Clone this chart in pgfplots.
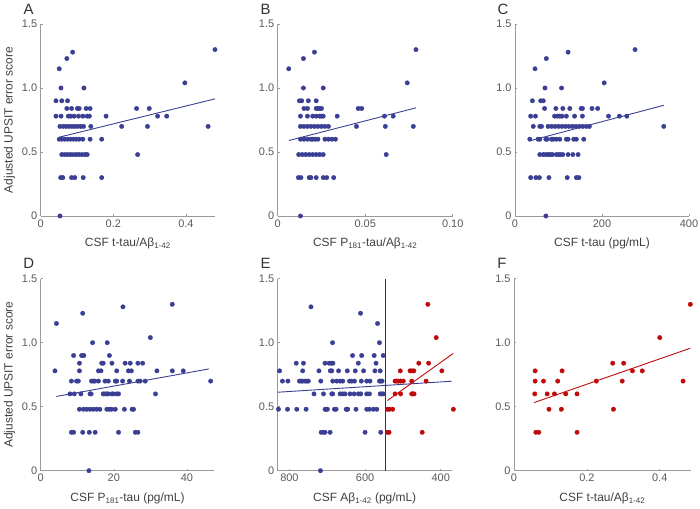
\documentclass[border=0pt]{standalone}
\usepackage{fontspec}
\setmainfont{Liberation Sans}
\usepackage{pgfplots}
\pgfplotsset{compat=1.18}

\definecolor{dotblue}{HTML}{3A3F94}
\definecolor{dotred}{HTML}{C00A0A}
\definecolor{axgray}{HTML}{9A9A9A}

\pgfplotsset{
  panel/.style={
    scale only axis, height=192bp,
    ymin=0, ymax=1.5,
    ytick={0,0.5,1,1.5}, yticklabels={0,0.5,1.0,1.5},
    axis x line*=bottom, axis y line*=left,
    axis line style={axgray, line width=0.6pt},
    tick style={axgray, line width=0.5pt},
    major tick length=2bp, tick align=inside,
    ticklabel style={font=\fontsize{11}{13}\selectfont, text=black!65},
    label style={font=\fontsize{12}{14}\selectfont, text=black!75},
    xlabel style={yshift=-4bp},
    clip=false,
  },
  dots/.style={only marks, mark=*, mark size=2.2bp, color=#1},
  fit/.style={no marks, line width=0.9pt, color=#1},
}

\newcommand{\panellabel}[1]{\node[font=\fontsize{15}{17}\selectfont, text=black!80, xshift=-12bp, yshift=15bp] at (rel axis cs:0,1) {#1};}

\begin{document}
\begin{tikzpicture}
\useasboundingbox (0,0) rectangle (700bp,509bp);

% A
\begin{axis}[panel, at={(40.7bp,293bp)}, anchor=south west, width=174.3bp,
  xmin=0, xmax=0.48, xtick={0,0.2,0.4}, xticklabels={0,0.2,0.4},
  xlabel={CSF t-tau/Aβ\textsubscript{1-42}}, ylabel={Adjusted UPSIT error score}]
\addplot[dots=dotblue] table {
x y
0.48 1.3
0.088 1.28
0.072 1.23
0.051 1.15
0.397 1.04
0.056 1.0
0.119 1.0
0.042 0.9
0.058 0.9
0.074 0.9
0.072 0.84
0.085 0.84
0.101 0.84
0.106 0.84
0.125 0.84
0.136 0.84
0.264 0.84
0.299 0.84
0.042 0.78
0.056 0.78
0.076 0.78
0.083 0.78
0.092 0.78
0.104 0.78
0.116 0.78
0.128 0.78
0.134 0.78
0.180 0.78
0.322 0.78
0.347 0.78
0.053 0.7
0.062 0.7
0.070 0.7
0.078 0.7
0.086 0.7
0.094 0.7
0.102 0.7
0.110 0.7
0.118 0.7
0.138 0.7
0.223 0.7
0.294 0.7
0.461 0.7
0.051 0.6
0.058 0.6
0.066 0.6
0.074 0.6
0.082 0.6
0.090 0.6
0.098 0.6
0.106 0.6
0.116 0.6
0.136 0.6
0.168 0.6
0.058 0.48
0.066 0.48
0.074 0.48
0.082 0.48
0.090 0.48
0.098 0.48
0.106 0.48
0.114 0.48
0.122 0.48
0.128 0.48
0.267 0.48
0.055 0.3
0.061 0.3
0.085 0.3
0.094 0.3
0.117 0.3
0.168 0.3
0.053 0.0
};
\addplot[fit=dotblue] coordinates {(0.05,0.615) (0.48,0.915)};
\panellabel{A}
\end{axis}

% B
\begin{axis}[panel, at={(277.7bp,293bp)}, anchor=south west, width=175bp,
  xmin=0, xmax=0.1, xtick={0,0.05,0.1}, xticklabels={0,0.05,0.10},
  xlabel={CSF P\textsubscript{181}-tau/Aβ\textsubscript{1-42}}]
\addplot[dots=dotblue] table {
x y
0.079 1.3
0.021 1.28
0.0147 1.23
0.0063 1.15
0.074 1.04
0.0147 1.0
0.026 1.0
0.0124 0.9
0.0137 0.9
0.0175 0.9
0.022 0.9
0.015 0.84
0.017 0.84
0.022 0.84
0.023 0.84
0.024 0.84
0.025 0.84
0.046 0.84
0.048 0.84
0.013 0.78
0.017 0.78
0.020 0.78
0.022 0.78
0.024 0.78
0.025 0.78
0.026 0.78
0.034 0.78
0.061 0.78
0.066 0.78
0.013 0.7
0.015 0.7
0.017 0.7
0.019 0.7
0.021 0.7
0.023 0.7
0.025 0.7
0.027 0.7
0.029 0.7
0.045 0.7
0.0615 0.7
0.0775 0.7
0.013 0.6
0.015 0.6
0.017 0.6
0.019 0.6
0.020 0.6
0.0215 0.6
0.023 0.6
0.027 0.6
0.029 0.6
0.031 0.6
0.033 0.6
0.012 0.48
0.014 0.48
0.016 0.48
0.018 0.48
0.020 0.48
0.022 0.48
0.024 0.48
0.026 0.48
0.062 0.48
0.0118 0.3
0.0133 0.3
0.018 0.3
0.019 0.3
0.022 0.3
0.026 0.3
0.028 0.3
0.032 0.3
0.013 0.0
};
\addplot[fit=dotblue] coordinates {(0.0065,0.59) (0.079,0.845)};
\panellabel{B}
\end{axis}

% C
\begin{axis}[panel, at={(515bp,293bp)}, anchor=south west, width=174bp,
  xmin=0, xmax=400, xtick={0,200,400}, xticklabels={0,200,400},
  xlabel={CSF t-tau (pg/mL)}]
\addplot[dots=dotblue] table {
x y
276 1.3
122 1.28
72 1.23
46 1.15
205 1.04
69 1.0
107 1.0
40 0.9
59 0.9
65 0.9
68 0.84
94 0.84
110 0.84
126 0.84
152 0.84
155 0.84
177 0.84
190 0.84
36 0.78
47 0.78
91 0.78
97 0.78
103 0.78
108 0.78
118 0.78
137 0.78
155 0.78
215 0.78
240 0.78
257 0.78
42 0.7
57 0.7
61 0.7
76 0.7
84 0.7
92 0.7
100 0.7
108 0.7
116 0.7
124 0.7
132 0.7
140 0.7
148 0.7
156 0.7
164 0.7
171 0.7
342 0.7
34 0.6
53 0.6
57 0.6
71 0.6
74 0.6
84 0.6
88 0.6
95 0.6
103 0.6
118 0.6
122 0.6
135 0.6
141 0.6
158 0.6
57 0.48
65 0.48
71 0.48
76 0.48
81 0.48
86 0.48
95 0.48
100 0.48
105 0.48
110 0.48
122 0.48
133 0.48
145 0.48
36 0.3
48 0.3
56 0.3
78 0.3
120 0.3
141 0.3
147 0.3
71 0.0
};
\addplot[fit=dotblue] coordinates {(36,0.589) (342,0.865)};
\panellabel{C}
\end{axis}

% D
\begin{axis}[panel, at={(40.7bp,38.3bp)}, anchor=south west, width=173.6bp,
  xmin=0, xmax=47.5, xtick={0,20,40}, xticklabels={0,20,40},
  xlabel={CSF P\textsubscript{181}-tau (pg/mL)}, ylabel={Adjusted UPSIT error score}]
\addplot[dots=dotblue] table {
x y
36 1.3
22.5 1.28
11.5 1.23
4.3 1.15
30 1.04
14.2 1.0
18.2 1.0
9 0.9
11.2 0.9
11.8 0.9
18.8 0.9
10.6 0.84
16.7 0.84
17.1 0.84
19.5 0.84
23.1 0.84
24.5 0.84
26.6 0.84
27.9 0.84
3.9 0.78
10.6 0.78
15.8 0.78
16.5 0.78
20.8 0.78
24.0 0.78
24.8 0.78
31.8 0.78
36 0.78
39 0.78
8.4 0.7
9.8 0.7
10.3 0.7
13.9 0.7
14.4 0.7
14.8 0.7
15.8 0.7
17.6 0.7
18.5 0.7
20.4 0.7
20.8 0.7
22.4 0.7
24.3 0.7
26.6 0.7
27.2 0.7
28.6 0.7
46.5 0.7
8 0.6
9.2 0.6
11 0.6
13.5 0.6
13.8 0.6
17.1 0.6
17.6 0.6
18.1 0.6
18.5 0.6
19.5 0.6
19.9 0.6
20.8 0.6
21.3 0.6
31.4 0.6
10.6 0.48
11.7 0.48
12.6 0.48
13.5 0.48
14.4 0.48
15.3 0.48
16.2 0.48
18.1 0.48
18.8 0.48
19.4 0.48
20.4 0.48
22.9 0.48
25.0 0.48
25.4 0.48
8.4 0.3
9 0.3
11.5 0.3
13.3 0.3
14.9 0.3
21.3 0.3
25.9 0.3
26.6 0.3
13.2 0.0
};
\addplot[fit=dotblue] coordinates {(4.3,0.58) (46,0.795)};
\panellabel{D}
\end{axis}

% E
\begin{axis}[panel, at={(277.7bp,38.3bp)}, anchor=south west, width=174bp,
  x dir=reverse, xmin=371, xmax=831, xtick={400,600,800}, xticklabels={400,600,800},
  xlabel={CSF Aβ\textsubscript{1-42} (pg/mL)}]
\addplot[no marks, line width=0.8pt, color=black!80] coordinates {(546,0) (546,1.5)};
\addplot[dots=dotblue] table {
x y
743 1.28
612 1.23
567 1.15
686 1.0
562 1.0
633 0.9
609 0.9
576 0.9
552 0.9
782 0.84
763 0.84
706 0.84
695 0.84
690 0.84
685 0.84
618 0.84
571 0.84
826 0.78
765 0.78
722 0.78
692 0.78
688 0.78
670 0.78
647 0.78
626 0.78
604 0.78
574 0.78
560 0.78
818.5 0.7
804 0.7
773.6 0.7
769 0.7
765 0.7
758.6 0.7
754 0.7
750 0.7
717 0.7
685.5 0.7
675 0.7
666 0.7
659 0.7
641 0.7
635 0.7
628 0.7
610 0.7
595.6 0.7
587 0.7
562 0.7
558.5 0.7
555 0.7
735 0.6
710 0.6
688 0.6
685.5 0.6
666 0.6
659 0.6
653 0.6
640 0.6
629 0.6
617.6 0.6
611.5 0.6
595.6 0.6
588.5 0.6
560 0.6
556 0.6
551.5 0.6
829 0.48
805 0.48
780.6 0.48
756 0.48
705.7 0.48
703 0.48
699.6 0.48
681 0.48
676.6 0.48
650 0.48
648.5 0.48
646 0.48
624 0.48
595.6 0.48
588.5 0.48
578 0.48
569 0.48
716 0.3
710 0.3
705.7 0.3
692.5 0.3
600 0.3
558.6 0.3
718 0.0
};
\addplot[dots=dotred] table {
x y
434 1.3
412 1.04
458 0.84
432 0.84
507 0.78
481 0.78
477 0.78
471 0.78
397 0.78
520.7 0.7
516 0.7
512 0.7
506 0.7
499 0.7
476.6 0.7
438.7 0.7
520.7 0.6
506 0.6
476.6 0.6
474 0.6
470.5 0.6
541 0.48
535.7 0.48
527 0.48
366.5 0.48
541 0.3
536.6 0.3
449 0.3
};
\addplot[fit=dotblue] coordinates {(831,0.613) (371,0.699)};
\addplot[fit=dotred] coordinates {(541,0.548) (367,0.916)};
\panellabel{E}
\end{axis}

% F
\begin{axis}[panel, at={(514bp,38.3bp)}, anchor=south west, width=176.7bp,
  xmin=0, xmax=0.485, xtick={0,0.2,0.4}, xticklabels={0,0.2,0.4},
  xlabel={CSF t-tau/Aβ\textsubscript{1-42}}]
\addplot[dots=dotred] table {
x y
0.058 0.78
0.058 0.7
0.057 0.6
0.060 0.3
0.068 0.3
0.081 0.7
0.091 0.6
0.096 0.48
0.111 0.6
0.120 0.7
0.130 0.48
0.132 0.78
0.142 0.6
0.173 0.6
0.173 0.3
0.226 0.7
0.271 0.84
0.273 0.48
0.297 0.7
0.301 0.84
0.325 0.78
0.352 0.78
0.400 1.04
0.464 0.7
0.484 1.3
};
\addplot[fit=dotred] coordinates {(0.055,0.532) (0.484,0.957)};
\panellabel{F}
\end{axis}
\end{tikzpicture}
\end{document}
